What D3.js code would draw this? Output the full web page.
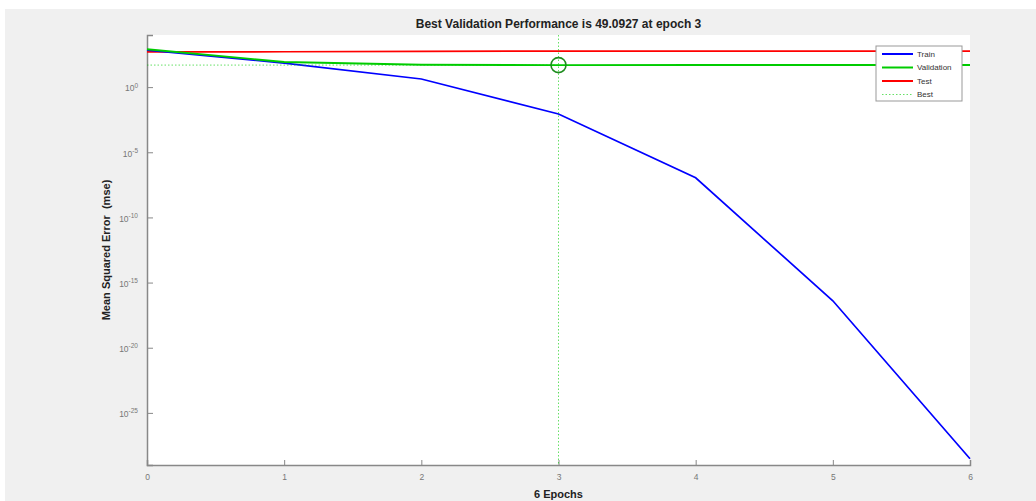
<!DOCTYPE html>
<html>
<head>
<meta charset="utf-8">
<script src="https://cdn.jsdelivr.net/npm/d3@7"></script>
<style>
  body { margin: 0; background: #fff; }
  text { font-family: "Liberation Sans", Arial, sans-serif; }
</style>
</head>
<body>
<div id="chart"></div>
<script>
// Performance per epoch (mse)
const epochs = [0, 1, 2, 3, 4, 5, 6];
const trainPerf = [700, 70, 4.2, 0.0087, 1.1e-7, 4e-17, 3e-29];
const validationPerf = [810, 85, 52, 49.0927, 49.2, 49.2, 49.2];
const testPerf = [500, 520, 560, 580, 580, 580, 580];
const bestEpoch = 3;
const bestPerf = 49.0927;
const yTickExps = [0, -5, -10, -15, -20, -25];
const legendNames = ["Train", "Validation", "Test", "Best"];

const width = 1036;
const height = 501;
const margin = { left: 147, right: 66, top: 35, bottom: 36 };

const svg = d3.select("#chart")
    .append("svg")
    .attr("width", width)
    .attr("height", height);

// Figure background
svg.append("rect")
    .attr("x", 5).attr("y", 9)
    .attr("width", width - 5).attr("height", height - 9)
    .attr("fill", "#f0f0f0");

const x = d3.scaleLinear()
    .domain([0, 6])
    .range([margin.left, width - margin.right]);

const y = d3.scaleLog()
    .domain([1e-29, 1e4])
    .range([height - margin.bottom, margin.top]);

// Plot area
svg.append("rect")
    .attr("x", x(0)).attr("y", y(1e4))
    .attr("width", x(6) - x(0))
    .attr("height", y(1e-29) - y(1e4))
    .attr("fill", "#fff");

const axisColor = "#888";

// Axes (MATLAB style: ticks pointing inwards)
const xAxis = svg.append("g")
    .attr("transform", `translate(0,${y(1e-29)})`)
    .call(d3.axisBottom(x).tickValues(epochs).tickSize(-5).tickPadding(9).tickFormat(d3.format("d")));

const yAxis = svg.append("g")
    .attr("transform", `translate(${x(0)},0)`)
    .call(d3.axisLeft(y).tickValues(yTickExps.map(e => Math.pow(10, e))).tickSize(-6).tickPadding(10).tickFormat(""));

[xAxis, yAxis].forEach(a => {
  a.select(".domain").attr("stroke", axisColor).attr("stroke-width", 1.5);
  a.selectAll(".tick line").attr("stroke", axisColor).attr("stroke-width", 1);
  a.selectAll(".tick text").attr("fill", "#777").style("font-size", "8.5px");
});

// y tick labels with exponents
yAxis.selectAll(".tick").each(function(d, i) {
  const t = d3.select(this).append("text")
      .attr("x", -9).attr("dy", "0.45em")
      .attr("text-anchor", "end")
      .attr("fill", "#777")
      .style("font-size", "8.5px");
  t.append("tspan").text("10");
  t.append("tspan").attr("dy", "-0.6em").style("font-size", "6.5px").text(yTickExps[i]);
});

// Lines
const line = d3.line()
    .x((d, i) => x(epochs[i]))
    .y(d => y(d));

// draw test, then train, then validation on top
svg.append("path")
    .datum(testPerf)
    .attr("d", line)
    .attr("fill", "none").attr("stroke", "#ff0000").attr("stroke-width", 1.7);

svg.append("path")
    .datum(trainPerf)
    .attr("d", line)
    .attr("fill", "none").attr("stroke", "#0000ff").attr("stroke-width", 1.7);

svg.append("path")
    .datum(validationPerf)
    .attr("d", line)
    .attr("fill", "none").attr("stroke", "#00cc00").attr("stroke-width", 1.9);

// Best markers
svg.append("line")
    .attr("x1", x(bestEpoch)).attr("x2", x(bestEpoch))
    .attr("y1", y(1e4)).attr("y2", y(1e-29))
    .attr("stroke", "#00cc00").attr("stroke-opacity", 0.6)
    .attr("stroke-width", 1).attr("stroke-dasharray", "1.5,2");

svg.append("line")
    .attr("x1", x(0)).attr("x2", x(bestEpoch))
    .attr("y1", y(bestPerf)).attr("y2", y(bestPerf))
    .attr("stroke", "#00cc00").attr("stroke-opacity", 0.6)
    .attr("stroke-width", 1).attr("stroke-dasharray", "1.5,2");

svg.append("circle")
    .attr("cx", x(bestEpoch)).attr("cy", y(bestPerf))
    .attr("r", 7.5)
    .attr("fill", "none").attr("stroke", "#1e8c1e").attr("stroke-width", 1.6);

// Title and labels
svg.append("text")
    .attr("x", (x(0) + x(6)) / 2).attr("y", 28)
    .attr("text-anchor", "middle")
    .attr("fill", "#222")
    .style("font-size", "12px").style("font-weight", "bold")
    .text(`Best Validation Performance is ${bestPerf} at epoch ${bestEpoch}`);

svg.append("text")
    .attr("x", (x(0) + x(6)) / 2).attr("y", 498)
    .attr("text-anchor", "middle")
    .attr("fill", "#222")
    .style("font-size", "11px").style("font-weight", "bold")
    .text("6 Epochs");

svg.append("text")
    .attr("transform", `translate(110,${(y(1e4) + y(1e-29)) / 2}) rotate(-90)`)
    .attr("text-anchor", "middle")
    .attr("fill", "#222")
    .style("font-size", "11px").style("font-weight", "bold")
    .style("white-space", "pre")
    .text("Mean Squared Error  (mse)");

// Legend
const legend = svg.append("g").attr("transform", "translate(876,46)");
legend.append("rect")
    .attr("width", 86).attr("height", 55)
    .attr("fill", "#fff").attr("stroke", "#999").attr("stroke-width", 1);

const legendColors = ["#0000ff", "#00cc00", "#ff0000", "#00cc00"];
legendNames.forEach((name, i) => {
  const ly = 8 + i * 13.5;
  legend.append("line")
      .attr("x1", 6).attr("x2", 37)
      .attr("y1", ly).attr("y2", ly)
      .attr("stroke", legendColors[i])
      .attr("stroke-width", name === "Best" ? 1 : 2)
      .attr("stroke-opacity", name === "Best" ? 0.6 : 1)
      .attr("stroke-dasharray", name === "Best" ? "1.5,2" : null);
  legend.append("text")
      .attr("x", 41).attr("y", ly).attr("dy", "0.35em")
      .attr("fill", "#333")
      .style("font-size", "8px")
      .text(name);
});
</script>
</body>
</html>
